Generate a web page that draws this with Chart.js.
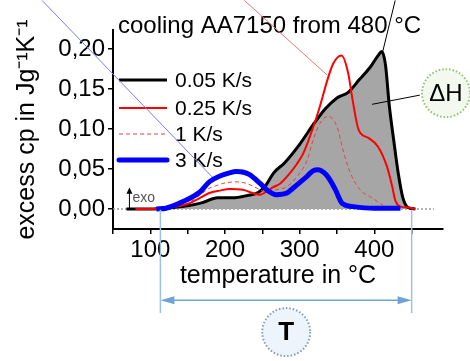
<!DOCTYPE html>
<html lang="en">
<head>
    <meta charset="UTF-8">
    <title>cooling AA7150 from 480 °C</title>
    <script src="https://cdn.jsdelivr.net/npm/chart.js"></script>
    <style>
        body, html {
            margin: 0;
            padding: 0;
            background: #fff;
        }
        canvas {
            display: block;
        }
    </style>
</head>
<body>
    <canvas id="dscChart" width="470" height="361"></canvas>
    <script>
        // temperatures (°C) and excess cp (J/gK)
        const t005 = [68, 100, 130, 150, 170, 190, 210, 230, 245, 255, 265, 280, 300, 320, 335, 350, 365, 380, 395, 405, 410, 415, 420, 426, 432, 438, 445, 455];
        const cp005 = [0, 0, 0.002, 0.004, 0.008, 0.014, 0.014, 0.017, 0.021, 0.03, 0.045, 0.058, 0.081, 0.108, 0.126, 0.139, 0.146, 0.162, 0.178, 0.192, 0.197, 0.18, 0.13, 0.086, 0.045, 0.015, 0.002, 0];

        const t025 = [80, 100, 120, 140, 152, 165, 179, 193, 206, 224, 237, 247, 256, 264, 274, 287, 296, 305, 318, 327, 337, 345, 356, 365, 371, 379, 392, 405, 417, 424, 428, 435, 445, 455];
        const cp025 = [0, 0, 0.001, 0.004, 0.007, 0.013, 0.02, 0.023, 0.025, 0.024, 0.02, 0.018, 0.022, 0.027, 0.032, 0.045, 0.056, 0.07, 0.102, 0.128, 0.161, 0.182, 0.192, 0.17, 0.136, 0.099, 0.089, 0.078, 0.053, 0.028, 0.011, 0.003, 0.002, 0];

        const t1 = [100, 130, 150, 166, 179, 188, 197, 216, 229, 243, 253, 262, 274, 283, 296, 310, 318, 327, 338, 350, 358, 368, 381, 395, 408, 417, 425];
        const cp1 = [0, 0.002, 0.007, 0.017, 0.026, 0.029, 0.032, 0.034, 0.032, 0.026, 0.022, 0.023, 0.025, 0.028, 0.04, 0.061, 0.086, 0.107, 0.116, 0.103, 0.074, 0.045, 0.024, 0.015, 0.007, 0.001, 0];

        const t3 = [108, 121, 143, 166, 179, 195, 205, 215, 225, 233, 247, 256, 269, 283, 291, 300, 310, 318, 325, 332, 338, 348, 357, 372, 400, 435];
        const cp3 = [0, 0.001, 0.009, 0.021, 0.034, 0.042, 0.045, 0.047, 0.046, 0.043, 0.032, 0.024, 0.018, 0.02, 0.026, 0.033, 0.041, 0.048, 0.049, 0.046, 0.04, 0.024, 0.007, 0.003, 0.001, 0.001];

        const baseT = [50, 480];
        const baseCp = [0, 0];

        const rateLabels = ['0.05 K/s', '0.25 K/s', '1 K/s', '3 K/s'];
        const yTicks = [0, 0.05, 0.10, 0.15, 0.20];
        const xTicks = [100, 200, 300, 400];

        const FONT = "'Liberation Sans', Arial, sans-serif";

        function pts(xs, ys) {
            return xs.map((x, i) => ({ x: x, y: ys[i] }));
        }

        // legend line styles, same order as rateLabels
        const legendStyles = [
            { color: '#000000', width: 3, dash: [] },
            { color: '#ff0000', width: 2, dash: [] },
            { color: '#e04545', width: 1, dash: [4, 3] },
            { color: '#0000ff', width: 5, dash: [] }
        ];

        // extra drawing: title, legend, pointer lines, ΔH and T markers
        const overlayPlugin = {
            id: 'overlay',
            afterDraw(chart) {
                const c = chart.ctx;
                const xs = chart.scales.x;
                const ys = chart.scales.y;
                const px = v => xs.getPixelForValue(v);
                const py = v => ys.getPixelForValue(v);
                const area = chart.chartArea;

                c.save();
                c.textBaseline = 'alphabetic';

                // title
                c.fillStyle = '#000';
                c.font = '24px ' + FONT;
                c.textAlign = 'left';
                c.fillText('cooling AA7150 from 480 °C', area.left + 5, 33);

                // legend
                c.font = '21px ' + FONT;
                c.textBaseline = 'middle';
                const rows = [80, 108, 134, 160];
                rateLabels.forEach((lab, i) => {
                    const st = legendStyles[i];
                    c.beginPath();
                    c.strokeStyle = st.color;
                    c.lineWidth = st.width;
                    c.setLineDash(st.dash);
                    c.lineCap = i === 3 ? 'round' : 'butt';
                    c.moveTo(area.left + 6, rows[i]);
                    c.lineTo(area.left + 54, rows[i]);
                    c.stroke();
                    c.setLineDash([]);
                    c.fillStyle = '#000';
                    c.fillText(lab, area.left + 62, rows[i] + 1);
                });
                c.lineCap = 'butt';

                // thin pointer lines
                function seg(x1, y1, x2, y2, col, w) {
                    c.beginPath();
                    c.strokeStyle = col;
                    c.lineWidth = w;
                    c.moveTo(px(x1), py(y1));
                    c.lineTo(px(x2), py(y2));
                    c.stroke();
                }
                seg(-45, 0.261, 183, 0.040, '#7b7be0', 1);
                seg(226, 0.261, 337, 0.1675, '#e87878', 1);
                seg(428, 0.261, 411, 0.196, '#000', 1);
                seg(461, 0.1425, 397, 0.131, '#000', 1);

                // exo arrow
                c.beginPath();
                c.strokeStyle = '#000';
                c.lineWidth = 1;
                c.moveTo(px(72), py(0));
                c.lineTo(px(72), py(0.023));
                c.stroke();
                c.beginPath();
                c.fillStyle = '#000';
                c.moveTo(px(72), py(0.027));
                c.lineTo(px(72) - 3, py(0.019));
                c.lineTo(px(72) + 3, py(0.019));
                c.closePath();
                c.fill();
                c.fillStyle = '#555';
                c.font = '14px ' + FONT;
                c.textAlign = 'left';
                c.fillText('exo', px(76), py(0.014));

                // ΔH bubble
                function bubble(cx, cy, r, fill, stroke, text, font) {
                    c.beginPath();
                    c.arc(cx, cy, r, 0, Math.PI * 2);
                    c.fillStyle = fill;
                    c.fill();
                    c.setLineDash([1.5, 2]);
                    c.lineWidth = 2;
                    c.strokeStyle = stroke;
                    c.stroke();
                    c.setLineDash([]);
                    c.fillStyle = '#000';
                    c.font = font;
                    c.textAlign = 'center';
                    c.textBaseline = 'middle';
                    c.fillText(text, cx, cy + 1);
                }
                bubble(px(496), py(0.145), 24, '#f3f9ee', '#8fc36e', 'ΔH', '24px ' + FONT);

                // temperature range bracket
                const xa = px(113.5), xb = px(450);
                c.strokeStyle = '#9ec2e4';
                c.lineWidth = 1.5;
                c.beginPath();
                c.moveTo(xa, py(-0.001));
                c.lineTo(xa, py(-0.13));
                c.moveTo(xb, py(-0.001));
                c.lineTo(xb, py(-0.13));
                c.stroke();
                const ya = py(-0.114);
                c.strokeStyle = '#6fa3d6';
                c.beginPath();
                c.moveTo(xa + 8, ya);
                c.lineTo(xb - 8, ya);
                c.stroke();
                c.fillStyle = '#6fa3d6';
                c.beginPath();
                c.moveTo(xa, ya);
                c.lineTo(xa + 14, ya - 4);
                c.lineTo(xa + 14, ya + 4);
                c.closePath();
                c.fill();
                c.beginPath();
                c.moveTo(xb, ya);
                c.lineTo(xb - 14, ya - 4);
                c.lineTo(xb - 14, ya + 4);
                c.closePath();
                c.fill();

                bubble(px(282), py(-0.154), 24, '#eef4fb', '#7f9db9', 'T', 'bold 26px ' + FONT);

                c.restore();
            }
        };

        const ctx = document.getElementById('dscChart').getContext('2d');
        const dscChart = new Chart(ctx, {
            type: 'line',
            data: {
                datasets: [
                    {
                        label: rateLabels[3],
                        data: pts(t3, cp3),
                        borderColor: '#0000ff',
                        borderWidth: 5,
                        order: 0
                    },
                    {
                        label: rateLabels[1],
                        data: pts(t025, cp025),
                        borderColor: '#ff0000',
                        borderWidth: 2,
                        order: 1
                    },
                    {
                        label: rateLabels[2],
                        data: pts(t1, cp1),
                        borderColor: '#e04545',
                        borderWidth: 1,
                        borderDash: [4, 3],
                        order: 2
                    },
                    {
                        label: rateLabels[0],
                        data: pts(t005, cp005),
                        borderColor: '#000000',
                        borderWidth: 3,
                        fill: 'origin',
                        backgroundColor: '#a6a6a6',
                        order: 3
                    },
                    {
                        label: 'baseline',
                        data: pts(baseT, baseCp),
                        borderColor: '#9a9a9a',
                        borderWidth: 1.5,
                        borderDash: [2, 2],
                        tension: 0,
                        order: 4
                    }
                ]
            },
            options: {
                responsive: false,
                animation: false,
                layout: {
                    padding: { left: 0, top: 30, right: 27, bottom: 70 }
                },
                elements: {
                    point: { radius: 0 },
                    line: { cubicInterpolationMode: 'monotone', fill: false }
                },
                plugins: {
                    legend: { display: false },
                    tooltip: { enabled: false }
                },
                scales: {
                    x: {
                        type: 'linear',
                        min: 50,
                        max: 492,
                        afterFit: s => { s.height = 62; },
                        afterBuildTicks: s => {
                            const list = [];
                            for (let v = 50; v <= 450; v += 50) list.push({ value: v });
                            s.ticks = list;
                        },
                        ticks: {
                            font: { family: FONT, size: 24 },
                            color: '#000',
                            padding: 2,
                            maxRotation: 0,
                            autoSkip: false,
                            callback: v => xTicks.includes(v) ? String(v) : ''
                        },
                        grid: { drawOnChartArea: false, drawTicks: true, tickLength: 5, color: '#000', lineWidth: 1.5 },
                        border: { display: true, color: '#000', width: 2 },
                        title: {
                            display: true,
                            text: 'temperature in °C',
                            font: { family: FONT, size: 25 },
                            color: '#000',
                            padding: 0
                        }
                    },
                    y: {
                        min: -0.025,
                        max: 0.224,
                        afterFit: s => { s.width = 113; },
                        afterBuildTicks: s => {
                            s.ticks = yTicks.map(v => ({ value: v }));
                        },
                        ticks: {
                            font: { family: FONT, size: 24 },
                            color: '#000',
                            padding: 3,
                            callback: v => v.toFixed(2).replace('.', ',')
                        },
                        grid: { drawOnChartArea: false, drawTicks: true, tickLength: 5, color: '#000', lineWidth: 1.5 },
                        border: { display: true, color: '#000', width: 2 },
                        title: {
                            display: true,
                            text: 'excess cp in Jg⁻¹K⁻¹',
                            font: { family: FONT, size: 25 },
                            color: '#000',
                            padding: { top: 12, bottom: 0 }
                        }
                    }
                }
            },
            plugins: [overlayPlugin]
        });
    </script>
</body>
</html>
